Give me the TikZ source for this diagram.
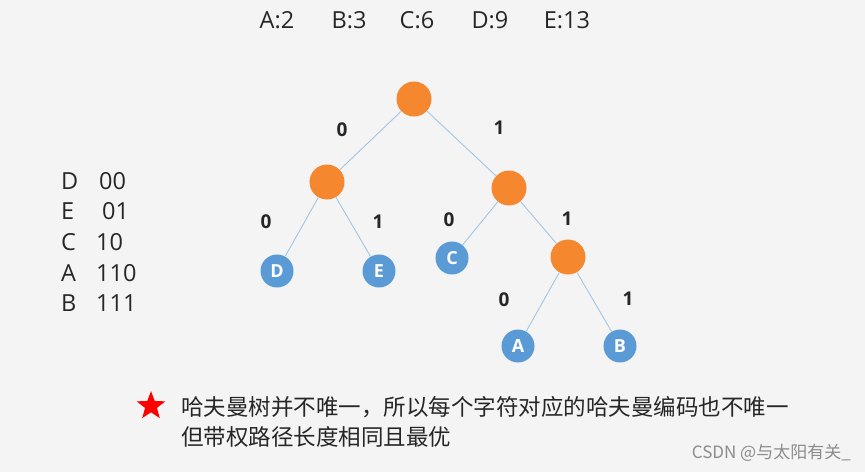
\documentclass[tikz,border=0pt]{standalone}
\usepackage{fontspec}
\setmainfont{Open Sans}
\newfontfamily\cjk{Noto Sans CJK SC}
\usepackage{tikz}
\usetikzlibrary{shapes.geometric}

\definecolor{huffOrange}{HTML}{F5882E}
\definecolor{huffBlue}{HTML}{5B9BD5}
\definecolor{huffEdge}{HTML}{A3C6E4}
\definecolor{huffBack}{HTML}{F4F4F4}

\begin{document}
\begin{tikzpicture}[x=1pt,y=-1pt,
  inner/.style={circle,fill=huffOrange,minimum size=35pt,inner sep=0pt},
  leaf/.style={circle,fill=huffBlue,minimum size=33pt,inner sep=0pt,text=white,font=\bfseries\fontsize{18}{18}\selectfont},
  bit/.style={font=\bfseries\fontsize{19}{19}\selectfont,text=black!85},
  edge/.style={huffEdge,line width=0.9pt},
  txt/.style={font=\fontsize{23.5}{23.5}\selectfont,text=black!85}]
  % background and bounding box
  \fill[huffBack] (0,0) rectangle (865,472);
  \useasboundingbox (0,0) rectangle (865,472);
  % weights
  \foreach \w/\xx in {A:2/277,B:3/349,C:6/417,D:9/490,E:13/567}{
    \node[txt] (w\xx) at (\xx,20) {\w};
  }
  % tree nodes
  \node[inner] (root) at (414,99) {};
  \node[inner] (n0) at (327,182) {};
  \node[inner] (n1) at (509,188) {};
  \node[inner] (n11) at (568,257) {};
  \node[leaf] (D) at (277,271) {D};
  \node[leaf] (E) at (379,271) {E};
  \node[leaf] (C) at (452,258) {C};
  \node[leaf] (A) at (518,346) {A};
  \node[leaf] (B) at (620,346) {B};
  % branches
  \foreach \a/\b in {root/n0,root/n1,n0/D,n0/E,n1/C,n1/n11,n11/A,n11/B}{
    \draw[edge] (\a) -- (\b);
  }
  % branch bits
  \node[bit] (b1) at (342,130) {0};
  \node[bit] (b2) at (499,128) {1};
  \node[bit] (b3) at (266,222) {0};
  \node[bit] (b4) at (378,222) {1};
  \node[bit] (b5) at (449,220) {0};
  \node[bit] (b6) at (567,219) {1};
  \node[bit] (b7) at (504,300) {0};
  \node[bit] (b8) at (628,299) {1};
  % code table
  \foreach \c/\k/\y/\cx in {D/00/181/99,E/01/211/102,C/10/242/96,A/110/273/96,B/111/303/96}{
    \node[txt,anchor=west,inner sep=0pt] (c\c) at (61,\y) {\c};
    \node[txt,anchor=west,inner sep=0pt] (k\c) at (\cx,\y) {\k};
  }
  % note
  \node[star,star points=5,star point ratio=2.4,fill=red,minimum size=30pt,inner sep=0pt] (mark) at (151,406) {};
  \node[anchor=west,inner sep=0pt,font=\cjk\fontsize{22.5}{30}\selectfont,text=black!85,align=left] (note) at (181,422)
    {哈夫曼树并不唯一，所以每个字符对应的哈夫曼编码也不唯一\\但带权路径长度相同且最优};
  \node[anchor=east,inner sep=0pt,font=\cjk\fontsize{17}{17}\selectfont,text=black!45] (wm) at (851,453) {CSDN @与太阳有关\_};
\end{tikzpicture}
\end{document}
